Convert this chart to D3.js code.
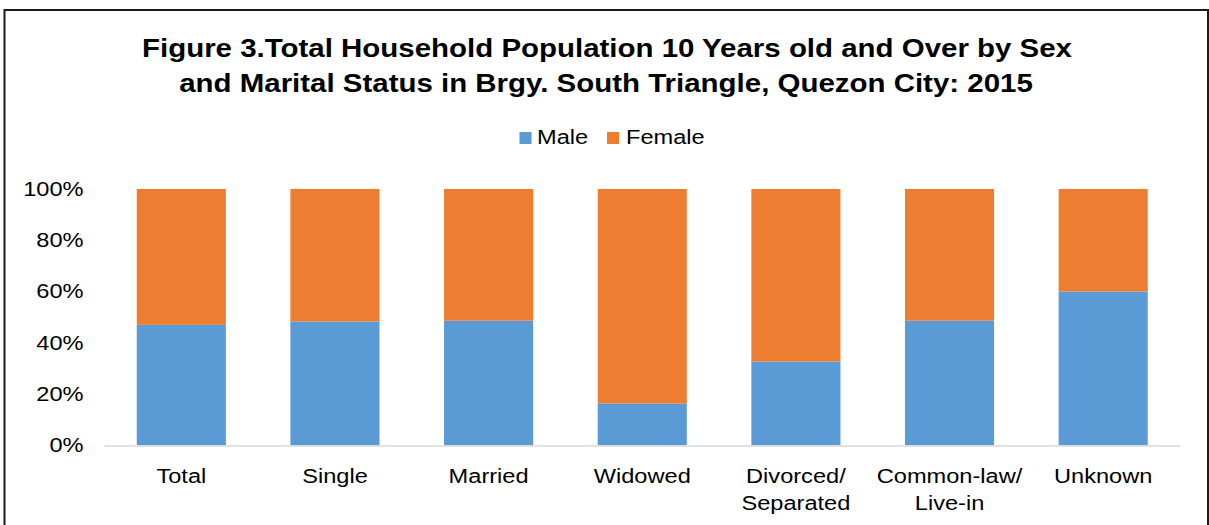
<!DOCTYPE html>
<html>
<head>
<meta charset="utf-8">
<script src="https://cdn.jsdelivr.net/npm/d3@7"></script>
<style>
  html, body { margin: 0; padding: 0; background: #fff; }
  svg { display: block; font-family: "Liberation Sans", Arial, sans-serif; }
</style>
</head>
<body>
<svg id="chart" width="1209" height="525"></svg>
<script>
const titleLines = ["Figure 3.Total Household Population 10 Years old and Over by Sex",
                    "and Marital Status in Brgy. South Triangle, Quezon City: 2015"];
const categories = ["Total", "Single", "Married", "Widowed", "Divorced/\nSeparated", "Common-law/\nLive-in", "Unknown"];
const seriesNames = ["Male", "Female"];
const maleShare = [0.470, 0.483, 0.486, 0.163, 0.327, 0.486, 0.600];
const femaleShare = [0.530, 0.517, 0.514, 0.837, 0.673, 0.514, 0.400];
const yTicks = [0, 0.2, 0.4, 0.6, 0.8, 1.0];
const colors = ["#5B9BD5", "#ED7D31"];

const svg = d3.select("#chart");
const W = 1209, H = 525;
const STRETCH = 1.18;

function stretch(sel, f) {
  sel.each(function() {
    const l = this.getComputedTextLength();
    this.setAttribute("textLength", l * f);
    this.setAttribute("lengthAdjust", "spacingAndGlyphs");
  });
}

svg.append("rect").attr("width", W).attr("height", H).attr("fill", "#fff");
// border
svg.append("rect").attr("x", 4.5).attr("y", 10).attr("width", 1203.5).attr("height", 540)
  .attr("fill", "none").attr("stroke", "#1a1a1a").attr("stroke-width", 2);

// title
const tl = svg.append("g");
const t1 = tl.append("text").attr("x", 607).attr("y", 57).attr("text-anchor", "middle")
  .attr("font-size", 25).attr("font-weight", "bold").attr("fill", "#000").text(titleLines[0]);
const nat1 = t1.node().getComputedTextLength();
const tf = 930 / nat1;
t1.attr("textLength", 930).attr("lengthAdjust", "spacingAndGlyphs");
const t2 = tl.append("text").attr("x", 606).attr("y", 92).attr("text-anchor", "middle")
  .attr("font-size", 25).attr("font-weight", "bold").attr("fill", "#000").text(titleLines[1]);
stretch(t2, tf);

// scales
const x = d3.scaleBand().domain(categories).range([104.5, 1180]).paddingInner(0.42).paddingOuter(0.21);
const y = d3.scaleLinear().domain([0, 1]).range([445.3, 189]);

const stackData = categories.map((c, i) => ({ cat: c, Male: maleShare[i], Female: femaleShare[i] }));
const stacked = d3.stack().keys(seriesNames)(stackData);

svg.append("g").selectAll("g").data(stacked).join("g")
  .attr("fill", (d, i) => colors[i])
  .selectAll("rect").data(d => d).join("rect")
  .attr("x", d => x(d.data.cat))
  .attr("width", x.bandwidth())
  .attr("y", d => y(d[1]))
  .attr("height", d => y(d[0]) - y(d[1]));

// baseline
svg.append("line").attr("x1", 104.5).attr("x2", 1180).attr("y1", y(0) + 0.7).attr("y2", y(0) + 0.7)
  .attr("stroke", "#d9d9d9").attr("stroke-width", 1.5);

// y axis
const yAxis = svg.append("g").attr("transform", "translate(104.5,0)")
  .call(d3.axisLeft(y).tickValues(yTicks).tickFormat(d3.format(".0%")).tickSize(0).tickPadding(21));
yAxis.select(".domain").remove();
yAxis.selectAll("text").attr("font-size", 20).attr("fill", "#000")
  .attr("font-family", "'Liberation Sans', Arial, sans-serif");
stretch(yAxis.selectAll("text"), STRETCH);

// x axis
const xAxis = svg.append("g").attr("transform", `translate(0,${y(0)})`)
  .call(d3.axisBottom(x).tickSize(0).tickFormat(""));
xAxis.select(".domain").remove();
xAxis.selectAll(".tick").each(function(d) {
  const lines = d.split("\n");
  const t = d3.select(this).append("text").attr("text-anchor", "middle").attr("fill", "#000")
    .attr("font-size", 20).attr("font-family", "'Liberation Sans', Arial, sans-serif");
  lines.forEach((ln, k) => {
    const ts = t.append("tspan").attr("x", 0).attr("y", 37.5 + k * 27).text(ln);
    stretch(ts, STRETCH);
  });
});

// legend
const legendItems = [{ name: "Male", sx: 519.5, tx: 537 }, { name: "Female", sx: 607, tx: 626 }];
const lg = svg.append("g");
legendItems.forEach((it, i) => {
  lg.append("rect").attr("x", it.sx).attr("y", 132).attr("width", 12).attr("height", 12).attr("fill", colors[i]);
  const t = lg.append("text").attr("x", it.tx).attr("y", 144).attr("font-size", 20).attr("fill", "#000").text(it.name);
  stretch(t, STRETCH);
});
</script>
</body>
</html>
